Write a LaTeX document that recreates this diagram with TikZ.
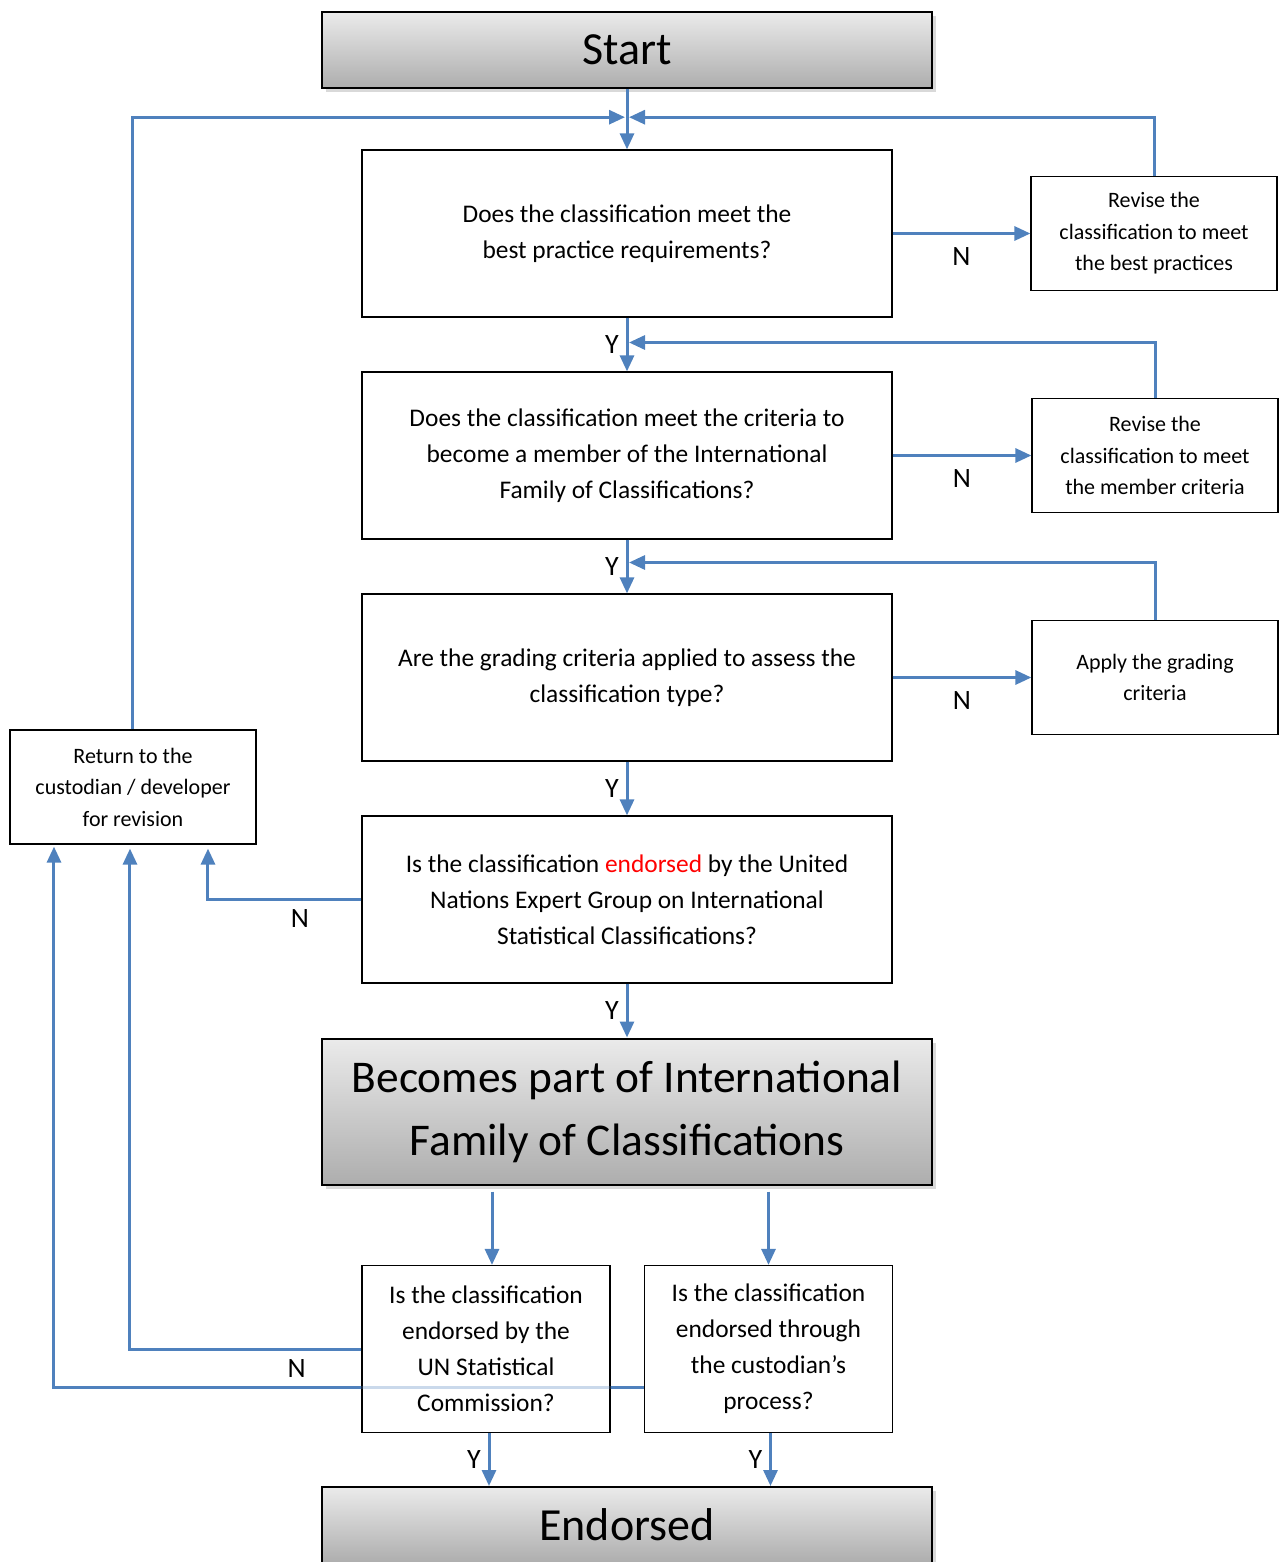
\documentclass[tikz,border=0pt]{standalone}
\usepackage{fontspec}
\setmainfont{Carlito}
\usepackage{tikz}
\usetikzlibrary{shapes,arrows.meta,shadows,calc}
\definecolor{linkblue}{HTML}{4F81BD}
\tikzstyle{startstop} = [rectangle, minimum width=305pt, minimum height=38pt, align=center, draw=black, line width=1pt, top color=black!8, bottom color=black!32, drop shadow={shadow xshift=2pt, shadow yshift=-2pt, opacity=0.3}, font=\fontsize{23}{28}\selectfont]
\tikzstyle{bigstop} = [startstop, minimum height=73pt, font=\fontsize{22.7}{31.5}\selectfont]
\tikzstyle{process} = [rectangle, minimum width=265pt, minimum height=83.5pt, align=center, draw=black, line width=0.6pt, font=\fontsize{12.7}{18}\selectfont]
\tikzstyle{smallproc} = [process, minimum width=124pt]
\tikzstyle{revise} = [rectangle, minimum width=123pt, minimum height=57pt, align=center, draw=black, line width=0.6pt, font=\fontsize{11}{15.75}\selectfont]
\tikzstyle{line} = [line width=1.5pt, draw=linkblue]
\tikzstyle{arrow} = [line, -{Triangle[length=8pt,width=7pt]}]
\tikzstyle{yn} = [font=\fontsize{14}{14}\selectfont]

\begin{document}
\begin{tikzpicture}[node distance=111pt]
        \useasboundingbox (-313.5pt,25pt) rectangle (328.5pt,-756pt);
        \node (start) [startstop] {Start};
        \node (dec1) [process, below of=start, yshift=19.25pt] {Does the classification meet the\\best practice requirements?};
        \node (dec2) [process, below of=dec1] {Does the classification meet the criteria to\\become a member of the International\\Family of Classifications?};
        \node (dec3) [process, below of=dec2] {Are the grading criteria applied to assess the\\classification type?};
        \node (dec4) [process, below of=dec3] {Is the classification {\color{red}endorsed} by the United\\Nations Expert Group on International\\Statistical Classifications?};
        \node (member) [bigstop, below of=dec4, yshift=5pt] {Becomes part of International\\Family of Classifications};
        \node (dec5) [smallproc, below of=member, xshift=-70.5pt, yshift=-7.75pt] {Is the classification\\endorsed by the\\UN Statistical\\Commission?};
        \node (dec6) [smallproc, right of=dec5, xshift=30.25pt] {Is the classification\\endorsed through\\the custodian’s\\process?};
        \node (stop) [startstop, below of=member, yshift=-95.75pt] {Endorsed};
        \node (proc1) [revise, right of=dec1, xshift=152.5pt] {Revise the\\classification to meet\\the best practices};
        \node (proc2) [revise, right of=dec2, xshift=153pt] {Revise the\\classification to meet\\the member criteria};
        \node (proc3) [revise, right of=dec3, xshift=153pt] {Apply the grading\\criteria};
        \node (back) [revise, left of=dec3, xshift=-136pt, yshift=-54.75pt] {Return to the\\custodian / developer\\for revision};
        % merge points on the main column
        \coordinate (m1) at ($(start.south)!0.5!(dec1.north)+(0,1pt)$);
        \coordinate (m2) at ($(dec1.south)!0.5!(dec2.north)+(0,1pt)$);
        \coordinate (m3) at ($(dec2.south)!0.5!(dec3.north)+(0,2pt)$);
        \draw [arrow] (start) -- (dec1);
        \draw [arrow] (back.north) |- ([xshift=-1pt]m1);
        \draw [arrow] (proc1.north) |- ([xshift=1pt]m1);
        \draw [arrow] (dec1) -- node[yn, anchor=north, yshift=-3pt] {N} (proc1);
        \draw [arrow] (dec1) -- node[yn, anchor=east] {Y} (dec2);
        \draw [arrow] (proc2.north) |- ([xshift=1pt]m2);
        \draw [arrow] (dec2) -- node[yn, anchor=north, yshift=-3pt] {N} (proc2);
        \draw [arrow] (dec2) -- node[yn, anchor=east] {Y} (dec3);
        \draw [arrow] (proc3.north) |- ([xshift=1pt]m3);
        \draw [arrow] (dec3) -- node[yn, anchor=north, yshift=-3pt] {N} (proc3);
        \draw [arrow] (dec3) -- node[yn, anchor=east] {Y} (dec4);
        \draw [arrow] (dec4.west) -| node[yn, pos=0.2, anchor=north, yshift=-1pt] {N} ([xshift=37.5pt,yshift=-2pt]back.south);
        \draw [arrow] (dec4) -- node[yn, anchor=east] {Y} (member);
        \draw [arrow] ($(member.south -| dec5.north)+(3pt,-3pt)$) -- ([xshift=3pt]dec5.north);
        \draw [arrow] ($(member.south -| dec6.north)+(0,-3pt)$) -- (dec6.north);
        \draw [arrow] ([xshift=1.5pt]dec5.south) -- node[yn, anchor=east] {Y} ([xshift=1.5pt]dec5.south |- stop.north);
        \draw [arrow] ([xshift=1pt]dec6.south) -- node[yn, anchor=east] {Y} ([xshift=1pt]dec6.south |- stop.north);
        \draw [arrow] (dec5.west) -| node[yn, pos=0.14, anchor=north, yshift=-1pt] {N} ([xshift=-1.5pt,yshift=-2pt]back.south);
        % second return line runs through dec5
        \coordinate (c6) at ([yshift=-19.25pt]dec6.west);
        \draw [line] (c6) -- (c6 -| dec5.east);
        \draw [line, draw opacity=0.3] (c6 -| dec5.east) -- (c6 -| dec5.west);
        \draw [arrow] (c6 -| dec5.west) -| ([xshift=-39.5pt,yshift=-1pt]back.south);
    \end{tikzpicture}
\end{document}
